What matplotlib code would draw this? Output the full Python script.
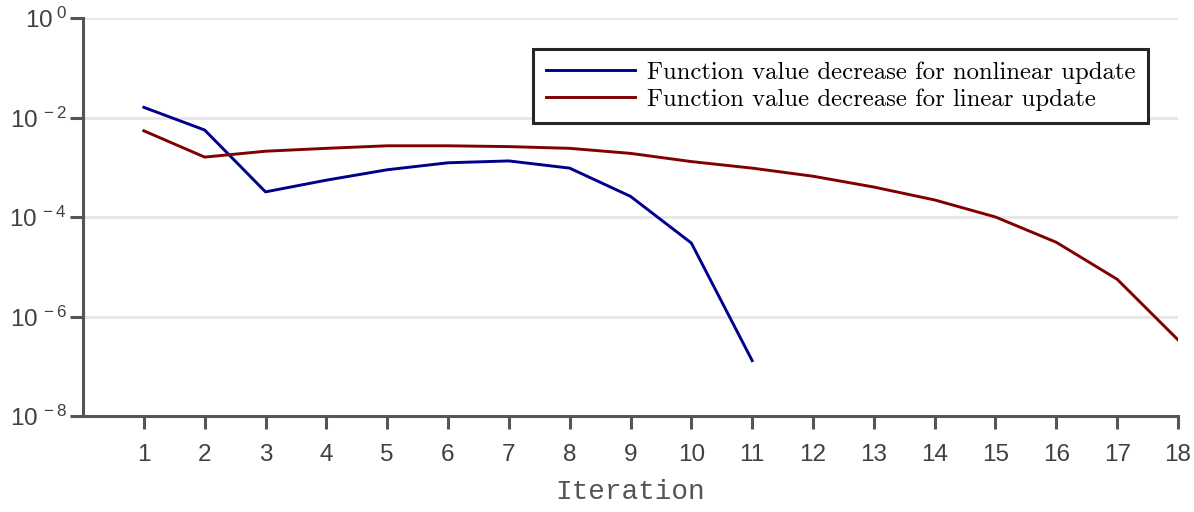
import numpy as np
import matplotlib
matplotlib.use('Agg')
import matplotlib.pyplot as plt
from matplotlib.ticker import FixedLocator, FuncFormatter

plt.rcParams['mathtext.fontset'] = 'custom'
plt.rcParams['mathtext.rm'] = 'Liberation Sans'
plt.rcParams['mathtext.it'] = 'Liberation Sans'
plt.rcParams['font.family'] = ['Liberation Sans', 'DejaVu Sans']

# per-iteration decrease of the objective
iters_nonlin = [1, 2, 3, 4, 5, 6, 7, 8, 9, 10, 11]
dec_nonlin = [1.6e-2, 5.6e-3, 3.2e-4, 5.5e-4, 8.9e-4, 1.23e-3, 1.34e-3,
              9.6e-4, 2.6e-4, 3.0e-5, 1.3e-7]
iters_lin = list(range(1, 19))
dec_lin = [5.4e-3, 1.6e-3, 2.1e-3, 2.4e-3, 2.7e-3, 2.7e-3, 2.6e-3, 2.4e-3,
           1.9e-3, 1.3e-3, 9.6e-4, 6.6e-4, 4.0e-4, 2.2e-4, 1.0e-4, 3.1e-5,
           5.6e-6, 3.4e-7]
label_nonlin = 'Function value decrease for nonlinear update'
label_lin = 'Function value decrease for linear update'

fig = plt.figure(figsize=(11.94, 5.12), dpi=100)
ax = fig.add_axes([83/1194, 96/512, (1178-83)/1194, (416-18)/512])

ax.plot(iters_nonlin, dec_nonlin, color='#00008b', lw=2.1, label=label_nonlin)
ax.plot(iters_lin, dec_lin, color='#800000', lw=2.1, label=label_lin)

ax.set_yscale('log')
ax.set_ylim(1e-8, 1)
ax.set_xlim(0, 18)
ax.yaxis.set_major_locator(FixedLocator([1e-8, 1e-6, 1e-4, 1e-2, 1]))
ax.yaxis.set_minor_locator(FixedLocator([]))
ax.yaxis.set_major_formatter(FuncFormatter(
    lambda v, p: r'$10^{\;%d}$' % int(round(np.log10(v)))))
ax.set_xticks(iters_lin)

ax.grid(axis='y', color='#e6e6e6', lw=2)
ax.set_axisbelow(True)
for s in ['top', 'right']:
    ax.spines[s].set_visible(False)
for s in ['left', 'bottom']:
    ax.spines[s].set_color('#555555')
    ax.spines[s].set_linewidth(2.2)
ax.tick_params(axis='both', direction='out', length=9.5, width=2.2,
               color='#555555', labelcolor='#404040', labelsize=17.5)
ax.tick_params(axis='y', pad=2)
ax.tick_params(axis='x', pad=11)

ax.set_xlabel('Iteration', family='Liberation Mono', fontsize=20,
              color='#555555', labelpad=9)

leg = ax.legend(loc='upper right', bbox_to_anchor=(1148/1194, 1 - 49/512),
                bbox_transform=fig.transFigure, prop={'family': 'cmr10', 'size': 17.8},
                fancybox=False, framealpha=1, edgecolor='#262626',
                handlelength=3.6, borderpad=0.5, labelspacing=0.17,
                handletextpad=0.5, borderaxespad=0)
leg.get_frame().set_linewidth(2.2)

fig.savefig('out.png', dpi=100)
